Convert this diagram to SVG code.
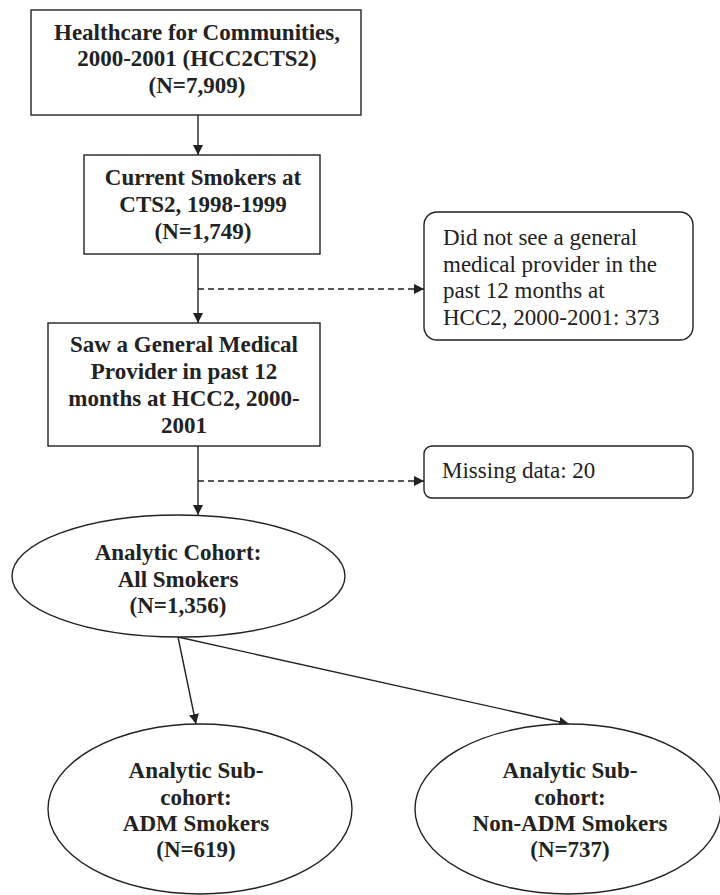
<svg xmlns="http://www.w3.org/2000/svg" width="720" height="895" viewBox="0 0 720 895">
<style>
.n{fill:#fff;stroke:#222;stroke-width:1.4}
.b{font-family:"Liberation Serif","Times New Roman",serif;font-weight:bold;font-size:23px;fill:#222;text-anchor:middle}
.r{font-family:"Liberation Serif","Times New Roman",serif;font-size:23px;fill:#222}
.c{stroke:#222;stroke-width:1.4;fill:none}
.d{stroke-dasharray:6 4}
</style>
<defs>
<marker id="ah" viewBox="0 0 10 10" refX="10" refY="5" markerWidth="10" markerHeight="10" markerUnits="userSpaceOnUse" orient="auto">
<path d="M0,0 L10,5 L0,10 z" fill="#222"/>
</marker>
</defs>
<rect width="720" height="895" fill="#fff"/>
<g id="connectors">
<line class="c" x1="198" y1="115" x2="198" y2="155" marker-end="url(#ah)"/>
<line class="c" x1="198" y1="254" x2="198" y2="323" marker-end="url(#ah)"/>
<line class="c d" x1="198" y1="289" x2="424" y2="289" marker-end="url(#ah)"/>
<line class="c" x1="198" y1="446" x2="198" y2="515" marker-end="url(#ah)"/>
<line class="c d" x1="198" y1="481" x2="424" y2="481" marker-end="url(#ah)"/>
<line class="c" x1="178" y1="637" x2="196" y2="724" marker-end="url(#ah)"/>
<line class="c" x1="178" y1="637" x2="569" y2="724" marker-end="url(#ah)"/>
</g>
<g id="hcc">
<rect class="n" x="31" y="10" width="330" height="105"/>
<text class="b" x="197" y="40">Healthcare for Communities,</text>
<text class="b" x="197" y="66">2000-2001 (HCC2CTS2)</text>
<text class="b" x="197" y="93">(N=7,909)</text>
</g>
<g id="smokers">
<rect class="n" x="84" y="155" width="236" height="99"/>
<text class="b" x="203" y="185">Current Smokers at</text>
<text class="b" x="203" y="212">CTS2, 1998-1999</text>
<text class="b" x="203" y="239">(N=1,749)</text>
</g>
<g id="notseen">
<rect class="n" x="424" y="212" width="269" height="128" rx="13"/>
<text class="r" x="443" y="245">Did not see a general</text>
<text class="r" x="443" y="272">medical provider in the</text>
<text class="r" x="443" y="298">past 12 months at</text>
<text class="r" x="443" y="325">HCC2, 2000-2001: 373</text>
</g>
<g id="saw">
<rect class="n" x="48" y="323" width="272" height="123"/>
<text class="b" x="184" y="352">Saw a General Medical</text>
<text class="b" x="184" y="379">Provider in past 12</text>
<text class="b" x="184" y="406">months at HCC2, 2000-</text>
<text class="b" x="184" y="433">2001</text>
</g>
<g id="missing">
<rect class="n" x="424" y="446" width="269" height="52" rx="8"/>
<text class="r" x="442" y="478">Missing data: 20</text>
</g>
<g id="cohort">
<ellipse class="n" cx="178.5" cy="576" rx="166.5" ry="61"/>
<text class="b" x="178" y="560">Analytic Cohort:</text>
<text class="b" x="178" y="587">All Smokers</text>
<text class="b" x="178" y="613">(N=1,356)</text>
</g>
<g id="adm">
<ellipse class="n" cx="200" cy="809" rx="152" ry="85"/>
<text class="b" x="196" y="778">Analytic Sub-</text>
<text class="b" x="196" y="805">cohort:</text>
<text class="b" x="196" y="831">ADM Smokers</text>
<text class="b" x="196" y="857">(N=619)</text>
</g>
<g id="nonadm">
<ellipse class="n" cx="568" cy="809" rx="153" ry="85"/>
<text class="b" x="570" y="778">Analytic Sub-</text>
<text class="b" x="570" y="805">cohort:</text>
<text class="b" x="570" y="831">Non-ADM Smokers</text>
<text class="b" x="570" y="857">(N=737)</text>
</g>
</svg>
